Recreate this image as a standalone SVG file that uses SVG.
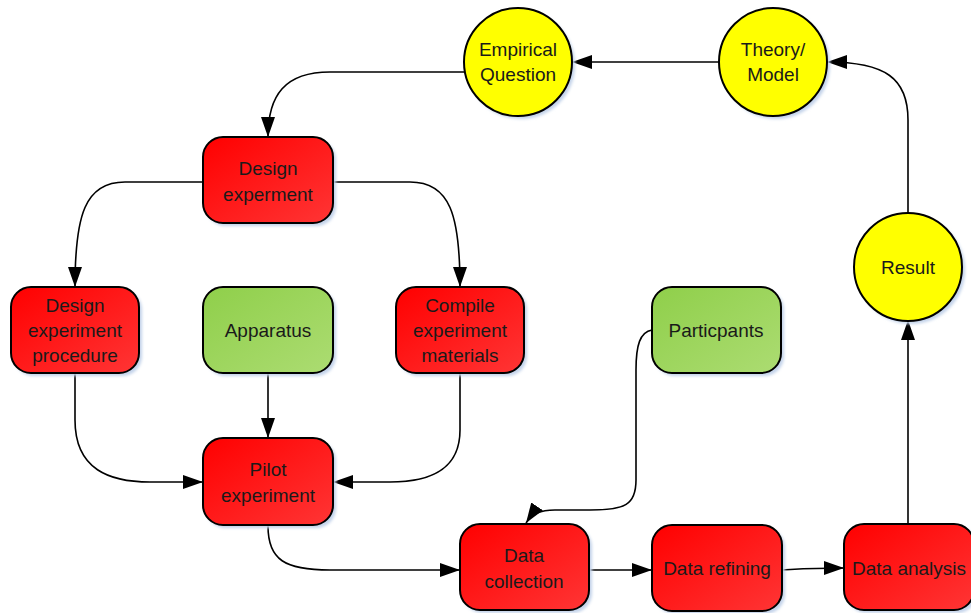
<svg xmlns="http://www.w3.org/2000/svg" width="971" height="613" viewBox="0 0 971 613">
<defs>
<linearGradient id="gr" x1="0" y1="0" x2="1" y2="1"><stop offset="0" stop-color="#ff0000"/><stop offset="1" stop-color="#ff3535"/></linearGradient>
<linearGradient id="gg" x1="0" y1="0" x2="1" y2="1"><stop offset="0" stop-color="#8fcf4a"/><stop offset="1" stop-color="#acdc72"/></linearGradient>
<filter id="sh" x="-10%" y="-10%" width="130%" height="130%"><feGaussianBlur stdDeviation="1.5"/></filter>
<marker id="ah2" viewBox="0 0 20 14" refX="20" refY="7" markerWidth="20" markerHeight="14" markerUnits="userSpaceOnUse" orient="auto">
<path d="M0,0 L20,7 L0,14 Z" fill="#000"/>
</marker>
</defs>
<style>
.shd{fill:#c3d3ea;filter:url(#sh)}
.r{fill:url(#gr);stroke:#000;stroke-width:2}
.g{fill:url(#gg);stroke:#000;stroke-width:2}
.y{fill:#ffff00;stroke:#000;stroke-width:2}
text{font-family:"Liberation Sans",Arial,sans-serif;font-size:19px;fill:#1a1a1a;text-anchor:middle}
.c path{fill:none;stroke:#000;stroke-width:1.6;marker-end:url(#ah2)}
</style>
<rect width="971" height="613" fill="#fff"/>

<g class="c" id="connectors">
<path d="M719,62 L572,62"/>
<path d="M464,72 L330,72 C285,72 268,95 268,137"/>
<path d="M203,182 L125,182 C85,182 75,215 75,287"/>
<path d="M333,182 L410,182 C450,182 460,215 460,287"/>
<path d="M75,373 L75,420 C75,470 110,482 150,482 L203,482"/>
<path d="M268,373 L268,438"/>
<path d="M460,373 L460,430 C460,470 430,482 390,482 L333,482"/>
<path d="M268,526 C268,560 285,570 330,570 L460,570"/>
<path d="M652,330 C640,332 636,345 636,370 L636,480 C636,505 625,510 590,510 L555,510 C540,510 532,514 526,523"/>
<path d="M589,570 L652,570"/>
<path d="M782,570 C800,569 810,568 844,568"/>
<path d="M908,524 L908,320"/>
<path d="M908,213 L908,120 C908,78 885,62 827,62"/>
</g>

<g id="empirical">
<circle class="shd" cx="521" cy="65" r="54"/>
<circle class="y" cx="518" cy="62" r="54"/>
<text x="518" y="56">Empirical</text><text x="518" y="81">Question</text>
</g>
<g id="theory">
<circle class="shd" cx="776" cy="65" r="54"/>
<circle class="y" cx="773" cy="62" r="54"/>
<text x="773" y="56">Theory/</text><text x="773" y="81">Model</text>
</g>
<g id="result">
<circle class="shd" cx="911" cy="270" r="54"/>
<circle class="y" cx="908" cy="267" r="54"/>
<text x="908" y="274">Result</text>
</g>

<g id="design">
<rect class="shd" x="206" y="140" width="130" height="86" rx="20"/>
<rect class="r" x="203" y="137" width="130" height="86" rx="20"/>
<text x="268" y="175">Design</text><text x="268" y="201">experment</text>
</g>
<g id="procedure">
<rect class="shd" x="14" y="290" width="128" height="86" rx="20"/>
<rect class="r" x="11" y="287" width="128" height="86" rx="20"/>
<text x="75" y="312">Design</text><text x="75" y="337">experiment</text><text x="75" y="362">procedure</text>
</g>
<g id="apparatus">
<rect class="shd" x="206" y="290" width="130" height="86" rx="20"/>
<rect class="g" x="203" y="287" width="130" height="86" rx="20"/>
<text x="268" y="337">Apparatus</text>
</g>
<g id="compile">
<rect class="shd" x="399" y="290" width="128" height="86" rx="20"/>
<rect class="r" x="396" y="287" width="128" height="86" rx="20"/>
<text x="460" y="312">Compile</text><text x="460" y="337">experiment</text><text x="460" y="362">materials</text>
</g>
<g id="participants">
<rect class="shd" x="655" y="290" width="129" height="86" rx="20"/>
<rect class="g" x="652" y="287" width="129" height="86" rx="20"/>
<text x="716" y="337">Particpants</text>
</g>
<g id="pilot">
<rect class="shd" x="206" y="441" width="130" height="87" rx="20"/>
<rect class="r" x="203" y="438" width="130" height="87" rx="20"/>
<text x="268" y="476">Pilot</text><text x="268" y="502">experiment</text>
</g>
<g id="collection">
<rect class="shd" x="463" y="527" width="129" height="86" rx="20"/>
<rect class="r" x="460" y="524" width="129" height="86" rx="20"/>
<text x="524" y="562">Data</text><text x="524" y="588">collection</text>
</g>
<g id="refining">
<rect class="shd" x="655" y="528" width="130" height="86" rx="20"/>
<rect class="r" x="652" y="525" width="130" height="86" rx="20"/>
<text x="717" y="575">Data refining</text>
</g>
<g id="analysis">
<rect class="shd" x="847" y="527" width="130" height="86" rx="20"/>
<rect class="r" x="844" y="524" width="130" height="86" rx="20"/>
<text x="909" y="575">Data analysis</text>
</g>
</svg>
